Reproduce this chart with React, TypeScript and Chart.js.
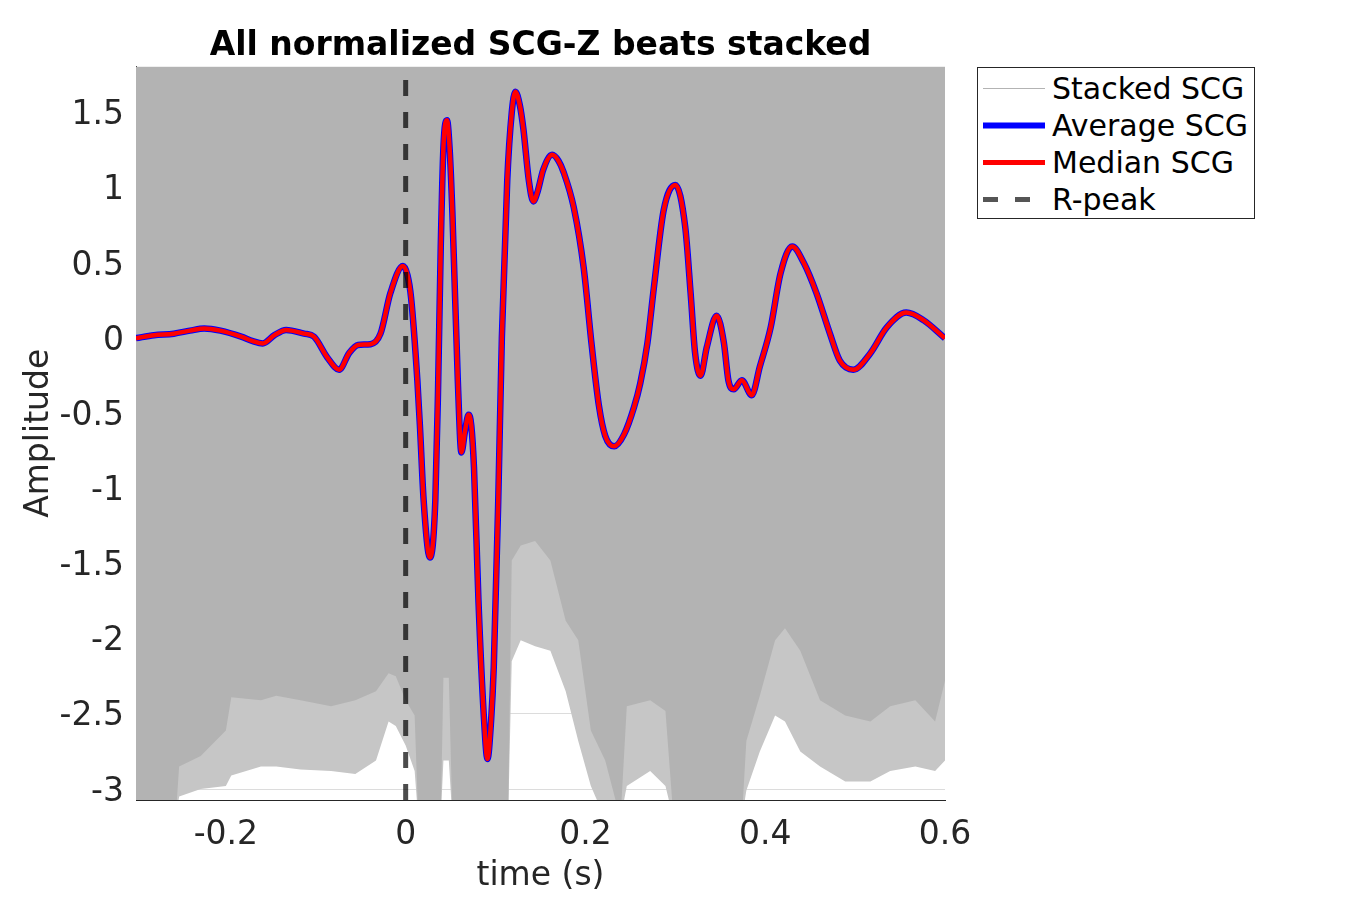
import { useEffect, useRef } from "react"
import { Chart, registerables } from "chart.js"

Chart.register(...registerables)

// beat time axis (s) and the two summary beats
const beatTime = [
  -0.3, -0.28, -0.258, -0.24, -0.224, -0.206, -0.183, -0.17, -0.159, -0.146, -0.133, -0.113, -0.102,
  -0.087, -0.074, -0.063, -0.053, -0.039, -0.028, -0.017, -0.003, 0.002, 0.006, 0.013, 0.016, 0.02,
  0.027, 0.033, 0.036, 0.039, 0.042, 0.046, 0.049, 0.052, 0.058, 0.062, 0.066, 0.07, 0.073, 0.076,
  0.081, 0.087, 0.091, 0.095, 0.098, 0.103, 0.107, 0.113, 0.118, 0.122, 0.127, 0.131, 0.137, 0.142,
  0.147, 0.153, 0.163, 0.17, 0.176, 0.187, 0.198, 0.207, 0.215, 0.222, 0.232, 0.243, 0.254, 0.261,
  0.269, 0.276, 0.287, 0.3, 0.311, 0.317, 0.322, 0.328, 0.335, 0.346, 0.354, 0.359, 0.365, 0.374,
  0.385, 0.394, 0.406, 0.417, 0.43, 0.443, 0.457, 0.472, 0.483, 0.498, 0.517, 0.535, 0.557, 0.576,
  0.598, 0.6,
]
const averageScg = [
  0.0, 0.02, 0.03, 0.05, 0.065, 0.05, 0.01, -0.02, -0.035, 0.02, 0.055, 0.03, 0.01,
  -0.13, -0.21, -0.1, -0.045, -0.04, 0.03, 0.3, 0.48, 0.42, 0.27, -0.28, -0.6, -1.08,
  -1.46, -1.08, -0.35, 0.6, 1.27, 1.45, 1.25, 0.83, -0.28, -0.76, -0.62, -0.51, -0.58, -0.86,
  -1.75, -2.52, -2.8, -2.55, -2.19, -1.08, 0.0, 1.05, 1.5, 1.64, 1.55, 1.39, 1.05, 0.91,
  0.98, 1.12, 1.22, 1.18, 1.1, 0.87, 0.47, -0.05, -0.45, -0.65, -0.72, -0.64, -0.46, -0.3,
  -0.03, 0.33, 0.85, 1.02, 0.74, 0.3, -0.1, -0.25, -0.06, 0.15, -0.03, -0.28, -0.34, -0.28,
  -0.38, -0.19, 0.07, 0.43, 0.61, 0.5, 0.3, 0.03, -0.15, -0.21, -0.1, 0.07, 0.17, 0.12,
  0.01, 0.0,
]
const medianScg = [
  0.0, 0.02, 0.03, 0.05, 0.065, 0.05, 0.01, -0.02, -0.035, 0.02, 0.055, 0.03, 0.01,
  -0.13, -0.21, -0.1, -0.045, -0.04, 0.03, 0.3, 0.48, 0.42, 0.27, -0.28, -0.6, -1.08,
  -1.46, -1.08, -0.35, 0.6, 1.27, 1.45, 1.25, 0.83, -0.28, -0.76, -0.62, -0.51, -0.58, -0.86,
  -1.75, -2.52, -2.8, -2.55, -2.19, -1.08, 0.0, 1.05, 1.5, 1.64, 1.55, 1.39, 1.05, 0.91,
  0.98, 1.12, 1.22, 1.18, 1.1, 0.87, 0.47, -0.05, -0.45, -0.65, -0.72, -0.64, -0.46, -0.3,
  -0.03, 0.33, 0.85, 1.02, 0.74, 0.3, -0.1, -0.25, -0.06, 0.15, -0.03, -0.28, -0.34, -0.28,
  -0.38, -0.19, 0.07, 0.43, 0.61, 0.5, 0.3, 0.03, -0.15, -0.21, -0.1, 0.07, 0.17, 0.12,
  0.01, 0.0,
]

// stacked beats: lower edge of the bundle (solid part, then thinned-out part)
const stackTime = [
  -0.3, -0.256, -0.252, -0.228, -0.2, -0.194, -0.161, -0.144, -0.117, -0.083, -0.056, -0.033,
  -0.019, -0.011, 0.0, 0.01, 0.014, 0.039, 0.042, 0.048, 0.052, 0.114, 0.118, 0.128, 0.144,
  0.161, 0.178, 0.192, 0.206, 0.222, 0.239, 0.246, 0.272, 0.289, 0.298, 0.374, 0.379, 0.394,
  0.411, 0.422, 0.439, 0.461, 0.489, 0.517, 0.539, 0.567, 0.589, 0.6,
]
const stackSolidEdge = [
  -3.2, -3.2, -2.85, -2.78, -2.61, -2.39, -2.41, -2.38, -2.41, -2.45, -2.41, -2.35,
  -2.23, -2.25, -2.41, -2.51, -3.2, -3.2, -2.26, -2.26, -3.2, -3.2, -1.48, -1.38, -1.35,
  -1.48, -1.88, -2.01, -2.61, -2.81, -3.2, -2.45, -2.41, -2.48, -3.2, -3.2, -2.68, -2.38,
  -2.01, -1.93, -2.08, -2.41, -2.51, -2.55, -2.45, -2.41, -2.55, -2.28,
]
const stackThinEdge = [
  -3.2, -3.2, -3.05, -3.0, -2.98, -2.91, -2.85, -2.85, -2.87, -2.88, -2.9, -2.81,
  -2.55, -2.58, -2.71, -2.88, -3.2, -3.2, -2.81, -2.81, -3.2, -3.2, -2.15, -2.01, -2.05,
  -2.08, -2.35, -2.68, -2.98, -3.2, -3.2, -2.98, -2.88, -2.98, -3.2, -3.2, -3.01, -2.75,
  -2.51, -2.55, -2.75, -2.85, -2.95, -2.95, -2.88, -2.85, -2.88, -2.81,
]

const rPeakTime = 0
const xRange = [-0.3, 0.6]
const yRange = [-3.073, 1.807]
const xTicks = [-0.2, 0, 0.2, 0.4, 0.6]
const yTicks = [-3, -2.5, -2, -1.5, -1, -0.5, 0, 0.5, 1, 1.5]

const legendLabels = ["Stacked SCG", "Average SCG", "Median SCG", "R-peak"]

const FONT = "'DejaVu Sans', sans-serif"
const AXIS_COLOR = "#262626"

const pts = (xs: number[], ys: number[]) => xs.map((x, i) => ({ x, y: ys[i] }))

export default function App() {
  const canvasRef = useRef<HTMLCanvasElement>(null)

  useEffect(() => {
    if (!canvasRef.current) return
    document.body.style.margin = "0"

    const chart = new Chart(canvasRef.current, {
      type: "line",
      data: {
        datasets: [
          {
            label: "R-peak",
            data: [
              { x: rPeakTime, y: yRange[0] },
              { x: rPeakTime, y: yRange[1] },
            ],
            borderColor: "rgba(0, 0, 0, 0.7)",
            borderWidth: 5,
            borderDash: [16, 16],
            pointRadius: 0,
            order: 0,
          },
          {
            label: "Median SCG",
            data: pts(beatTime, medianScg),
            borderColor: "#ff0000",
            borderWidth: 4.5,
            cubicInterpolationMode: "monotone",
            pointRadius: 0,
            order: 1,
          },
          {
            label: "Average SCG",
            data: pts(beatTime, averageScg),
            borderColor: "#0000ff",
            borderWidth: 6.5,
            cubicInterpolationMode: "monotone",
            pointRadius: 0,
            order: 2,
          },
          {
            label: "Stacked SCG",
            data: pts(stackTime, stackSolidEdge),
            borderColor: "rgba(0,0,0,0)",
            borderWidth: 0,
            backgroundColor: "#b3b3b3",
            fill: "end",
            pointRadius: 0,
            order: 3,
          },
          {
            label: "Stacked SCG (thin)",
            data: pts(stackTime, stackThinEdge),
            borderColor: "rgba(0,0,0,0)",
            borderWidth: 0,
            backgroundColor: "#c6c6c6",
            fill: "end",
            pointRadius: 0,
            order: 4,
          },
        ],
      },
      options: {
        animation: false,
        responsive: true,
        maintainAspectRatio: false,
        layout: { padding: { left: 0, right: 405, top: 0, bottom: 0 } },
        plugins: {
          legend: { display: false },
          tooltip: { enabled: false },
          title: {
            display: true,
            text: "All normalized SCG-Z beats stacked",
            color: "#000",
            fullSize: false,
            font: { family: FONT, size: 33, weight: "bold", lineHeight: 1.2 },
            padding: { top: 27, bottom: 0 },
          },
        },
        scales: {
          x: {
            type: "linear",
            min: xRange[0],
            max: xRange[1],
            afterBuildTicks: (s: any) => {
              s.ticks = xTicks.map((v) => ({ value: v }))
            },
            afterFit: (s: any) => {
              s.height = 100
            },
            grid: { display: false, drawTicks: false },
            border: { color: AXIS_COLOR, width: 1 },
            ticks: {
              color: AXIS_COLOR,
              font: { family: FONT, size: 33, lineHeight: 1.2 },
              padding: 16,
              maxRotation: 0,
              autoSkip: false,
              callback: (v: any) => String(v),
            },
            title: {
              display: true,
              text: "time (s)",
              color: AXIS_COLOR,
              font: { family: FONT, size: 33, lineHeight: 1.2 },
              padding: { top: 0, bottom: 4 },
            },
          },
          y: {
            type: "linear",
            min: yRange[0],
            max: yRange[1],
            afterBuildTicks: (s: any) => {
              s.ticks = yTicks.map((v) => ({ value: v }))
            },
            afterFit: (s: any) => {
              s.width = 136
            },
            grid: { color: "#dcdcdc", drawTicks: false },
            border: { color: AXIS_COLOR, width: 1 },
            ticks: {
              color: AXIS_COLOR,
              font: { family: FONT, size: 33, lineHeight: 1.2 },
              padding: 12,
              labelOffset: 3,
              autoSkip: false,
              callback: (v: any) => String(v),
            },
            title: {
              display: true,
              text: "Amplitude",
              color: AXIS_COLOR,
              font: { family: FONT, size: 33, lineHeight: 1.2 },
              padding: { top: 20, bottom: 0 },
            },
          },
        },
      },
    })

    return () => chart.destroy()
  }, [])

  const samples = [
    { stroke: "#b3b3b3", width: 1, dash: undefined },
    { stroke: "#0000ff", width: 6, dash: undefined },
    { stroke: "#ff0000", width: 5, dash: undefined },
    { stroke: "#555555", width: 5, dash: "15 17" },
  ]

  return (
    <div
      style={{
        position: "absolute",
        left: 0,
        top: 0,
        width: 1350,
        height: 900,
        background: "#fff",
      }}
    >
      <canvas ref={canvasRef} />
      <div
        style={{
          position: "absolute",
          left: 977,
          top: 67,
          width: 276,
          height: 150,
          border: `1px solid ${AXIS_COLOR}`,
          background: "#fff",
          fontFamily: FONT,
          fontSize: 30,
          color: "#000",
        }}
      >
        {legendLabels.map((label, i) => (
          <div
            key={label}
            style={{
              position: "absolute",
              left: 0,
              top: 2 + i * 37,
              height: 37,
              display: "flex",
              alignItems: "center",
              whiteSpace: "nowrap",
            }}
          >
            <svg width={62} height={37} style={{ marginLeft: 5, marginRight: 7 }}>
              <line
                x1={0}
                y1={18.5}
                x2={62}
                y2={18.5}
                stroke={samples[i].stroke}
                strokeWidth={samples[i].width}
                strokeDasharray={samples[i].dash}
              />
            </svg>
            <span style={{ lineHeight: "37px" }}>{label}</span>
          </div>
        ))}
      </div>
    </div>
  )
}
